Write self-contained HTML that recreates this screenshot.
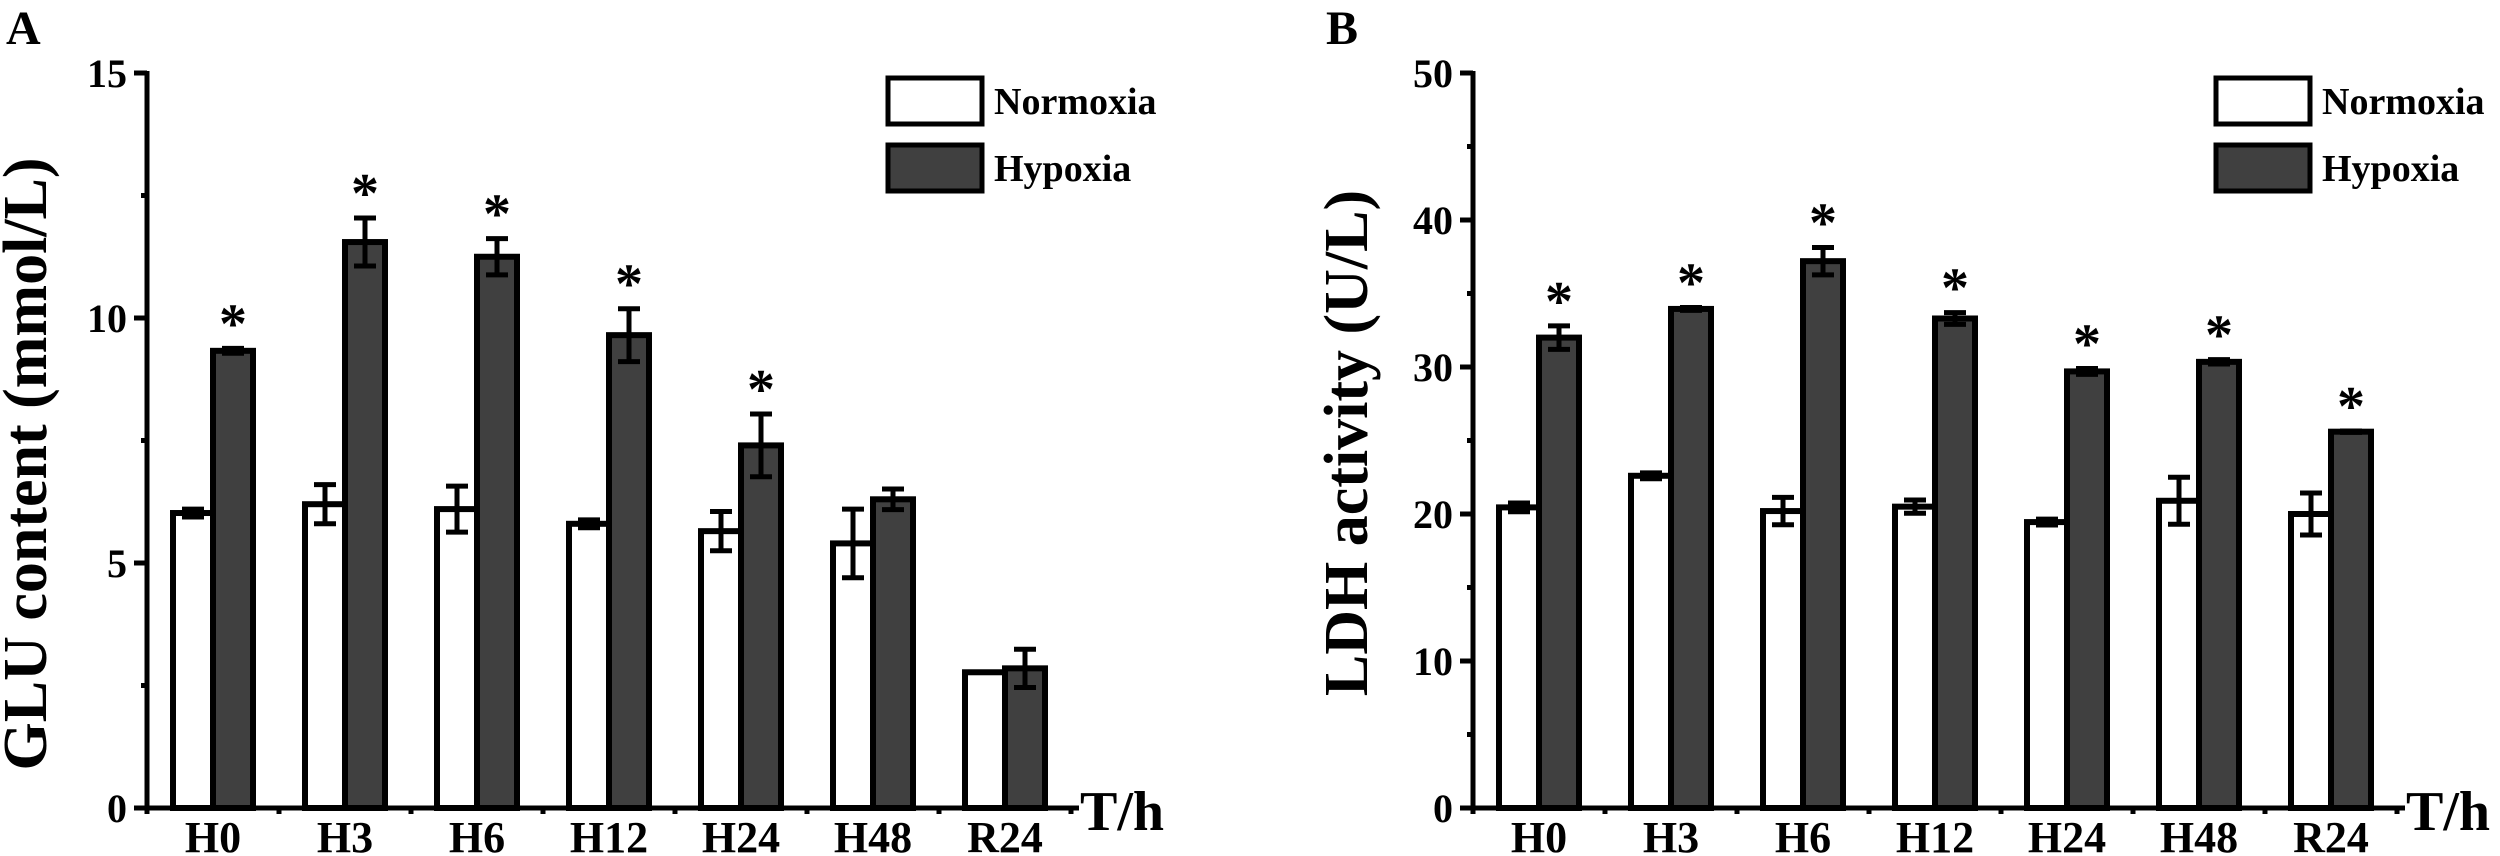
<!DOCTYPE html>
<html><head><meta charset="utf-8">
<style>
html,body{margin:0;padding:0;background:#fff;}
svg{display:block;}
text{font-family:"Liberation Serif",serif;font-weight:bold;fill:#000;}
</style></head>
<body>
<svg id="chart" width="2500" height="856" viewBox="0 0 2500 856" xmlns="http://www.w3.org/2000/svg"></svg>
<script>
const categories = ["H0","H3","H6","H12","H24","H48","R24"];
const gluNormoxia = [6.02, 6.2, 6.1, 5.8, 5.65, 5.4, 2.77];
const gluNormoxiaErr = [0.08, 0.4, 0.47, 0.08, 0.4, 0.7, 0];
const gluHypoxia = [9.33, 11.55, 11.25, 9.65, 7.4, 6.3, 2.85];
const gluHypoxiaErr = [0.05, 0.49, 0.37, 0.54, 0.64, 0.21, 0.39];
const gluStars = [true, true, true, true, true, false, false];
const gluTicks = [0, 5, 10, 15];
const ldhNormoxia = [20.45, 22.6, 20.2, 20.5, 19.45, 20.9, 20.0];
const ldhNormoxiaErr = [0.3, 0.2, 0.93, 0.45, 0.2, 1.6, 1.43];
const ldhHypoxia = [32.0, 33.95, 37.2, 33.3, 29.7, 30.35, 25.6];
const ldhHypoxiaErr = [0.8, 0.1, 0.93, 0.4, 0.2, 0.15, 0.05];
const ldhStars = [true, true, true, true, true, true, true];
const ldhTicks = [0, 10, 20, 30, 40, 50];

const NS = "http://www.w3.org/2000/svg";
const svg = document.getElementById("chart");
function mk(tag, attrs, parent, txt) {
  const e = document.createElementNS(NS, tag);
  for (const k in attrs) e.setAttribute(k, attrs[k]);
  if (txt !== undefined) e.textContent = txt;
  (parent || svg).appendChild(e);
  return e;
}

function panel(cfg) {
  const g = mk("g", {});
  
  
  const ox = cfg.ox, y0 = 808, yTop = 73, band = 132, bw = 40;
  const yS = v => y0 - (v / cfg.max) * (y0 - yTop);
  const xC = i => ox + band * i + band / 2;

  const pl = mk("text", {x: cfg.letterX, y: 44, "font-size": 48}, g, cfg.letter);
  
  

  categories.forEach((c, i) => {
    const cx = xC(i);
    const n = cfg.norm[i], h = cfg.hyp[i];
    const r1 = mk("rect", {x: cx - bw, y: yS(n), width: bw, height: y0 - yS(n), fill: "#fff", stroke: "#000", "stroke-width": 6}, g);
    
    
    const r2 = mk("rect", {x: cx, y: yS(h), width: bw, height: y0 - yS(h), fill: "#404040", stroke: "#000", "stroke-width": 6}, g);
    
    
    [[cx - bw / 2, n, cfg.normErr[i]], [cx + bw / 2, h, cfg.hypErr[i]]].forEach(([x, v, e]) => {
      if (e <= 0) return;
      const eg = mk("g", {stroke: "#000", "stroke-width": 5}, g);
      
      
      mk("line", {x1: x, x2: x, y1: yS(v + e), y2: yS(v - e)}, eg);
      mk("line", {x1: x - 11, x2: x + 11, y1: yS(v + e), y2: yS(v + e)}, eg);
      mk("line", {x1: x - 11, x2: x + 11, y1: yS(v - e), y2: yS(v - e)}, eg);
    });
    if (cfg.stars[i]) {
      const s = mk("text", {x: cx + bw / 2, y: yS(h + cfg.hypErr[i]) - 6, "text-anchor": "middle", "font-size": 56}, g, "*");
      
      
    }
    const xl = mk("text", {x: cx, y: 852, "text-anchor": "middle", "font-size": 44}, g, c);
    
    
  });

  const ax = mk("g", {stroke: "#000", "stroke-width": 5}, g);
  
  
  mk("line", {x1: ox, x2: ox, y1: yTop - 2, y2: y0 + 2}, ax);
  mk("line", {x1: ox - 2, x2: ox + band * 7 + 8, y1: y0, y2: y0}, ax);
  for (let i = 0; i <= 7; i++) mk("line", {x1: ox + band * i, x2: ox + band * i, y1: y0, y2: y0 + 6}, ax);
  cfg.ticks.forEach((t, k) => {
    mk("line", {x1: ox - 13, x2: ox, y1: yS(t), y2: yS(t)}, ax);
    if (k < cfg.ticks.length - 1) {
      const m = (t + cfg.ticks[k + 1]) / 2;
      mk("line", {x1: ox - 6, x2: ox, y1: yS(m), y2: yS(m)}, ax);
    }
    const tl = mk("text", {x: ox - 20, y: yS(t) + 14, "text-anchor": "end", "font-size": 40}, g, String(t));
    
    
  });

  const th = mk("text", {x: ox + 933, y: 830, "font-size": 56}, g, "T/h");
  
  
  const yt = mk("text", {x: 0, y: 0, "text-anchor": "middle", "font-size": 62, transform: `translate(${cfg.titleX},${cfg.titleY}) rotate(-90)`}, g, cfg.title);
  
  

  const lx = ox + cfg.legDx;
  const lg = mk("g", {}, g);
  
  
  const e1 = mk("rect", {x: lx, y: 78, width: 94, height: 46, fill: "#fff", stroke: "#000", "stroke-width": 5}, lg);
  
  
  const t1 = mk("text", {x: lx + 106, y: 114, "font-size": 38}, lg, "Normoxia");
  
  
  const e2 = mk("rect", {x: lx, y: 145, width: 94, height: 46, fill: "#404040", stroke: "#000", "stroke-width": 5}, lg);
  
  
  const t2 = mk("text", {x: lx + 106, y: 181, "font-size": 38}, lg, "Hypoxia");
  
  
}

panel({name: "panel-a-glu", letter: "A", letterX: 6, ox: 147, max: 15, ticks: gluTicks,
  norm: gluNormoxia, normErr: gluNormoxiaErr, hyp: gluHypoxia, hypErr: gluHypoxiaErr, stars: gluStars,
  title: "GLU content (mmol/L)", titleX: 46, titleY: 464, legDx: 741});
panel({name: "panel-b-ldh", letter: "B", letterX: 1326, ox: 1473, max: 50, ticks: ldhTicks,
  norm: ldhNormoxia, normErr: ldhNormoxiaErr, hyp: ldhHypoxia, hypErr: ldhHypoxiaErr, stars: ldhStars,
  title: "LDH activity (U/L)", titleX: 1367, titleY: 443, legDx: 743});
</script>
</body></html>
